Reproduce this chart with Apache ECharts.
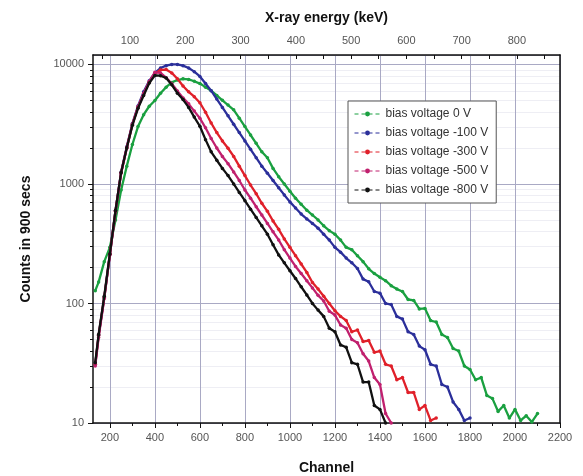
<!DOCTYPE html>
<html><head><meta charset="utf-8">
<script src="https://cdn.jsdelivr.net/npm/echarts@6/dist/echarts.min.js"></script>
<style>html,body{margin:0;padding:0;background:#fff}#c{width:583px;height:476px}</style>
</head><body><div id="c"></div>
<script>
// Channel positions (shared by all series)
const channels = [135,150,175,200,225,250,275,300,325,350,375,400,425,450,475,500,525,550,575,600,
  625,650,675,700,725,750,775,800,825,850,875,900,925,950,975,1000,1025,1050,1075,1100,
  1125,1150,1175,1200,1225,1250,1275,1300,1325,1350,1375,1400,1425,1450,1475,1500,1525,1550,1575,1600,
  1625,1650,1675,1700,1725,1750,1775,1800,1825,1850,1875,1900,1925,1950,1975,2000,2025,2050,2075,2100];

// Counts in 900 secs
const bias0 = [128,151,224,295,500,890,1410,2140,3020,3800,4470,5000,5750,6460,7080,7410,7590,7500,7240,6920,
  6460,6030,5500,5010,4570,4170,3550,3020,2570,2190,1860,1660,1350,1150,1000,870,760,676,603,550,
  500,447,407,380,339,295,282,251,224,195,178,166,155,141,132,126,108,106,90,91,
  72,70,55,52,42,40,30,28,23,24,17,16,12.5,14,11,13,10.5,11.5,10.2,12];
const bias100 = [31,54,112,258,600,1260,2050,3200,4500,5900,7300,8500,9330,9770,10000,10000,9770,9330,8710,7940,
  6920,6030,5130,4370,3720,3160,2690,2290,1950,1660,1410,1230,1070,930,810,708,630,560,510,468,
  427,380,339,295,269,240,219,196,160,152,126,122,100,98,78,74,58,55,44,41,
  31,30,21,20,15,13,10.5,11];
const bias300 = [31,54,112,258,595,1240,2010,3150,4400,5700,7100,8400,9000,9060,8500,7600,6600,5900,5370,4780,
  3980,3240,2690,2290,1990,1700,1410,1175,980,830,690,590,490,417,347,295,251,214,182,150,
  132,115,100,87,78,72,58,60,48,49,39,40,31,30,23,24,18,18,13,14,
  10.5,11];
const bias500 = [30,52,110,255,590,1230,2000,3150,4400,5700,7200,8600,8500,7760,6900,6000,5250,4680,4070,3550,
  2950,2400,2000,1700,1480,1260,1070,890,760,645,550,468,398,340,282,240,204,178,155,135,
  117,105,86,80,66,62,50,47,38,33,24,21,12,10];
const bias800 = [32,55,115,260,600,1250,2000,3100,4300,5500,7000,8100,8050,7700,6760,5750,5080,4370,3630,3040,
  2350,1860,1580,1350,1175,1000,850,725,615,525,447,380,310,255,219,188,162,138,118,100,
  88,78,62,58,45,43,32,31,22,22,14,13,10];

const seriesNames = ['bias voltage 0 V','bias voltage -100 V','bias voltage -300 V','bias voltage -500 V','bias voltage -800 V'];
const seriesValues = [bias0, bias100, bias300, bias500, bias800];
const seriesColors = ['#1aa040','#2b2f9a','#e0202a','#c0206e','#111111'];

// Axis ticks / labels
const channelLabels = [200,400,600,800,1000,1200,1400,1600,1800,2000,2200];
const channelMinor = [300,500,700,900,1100,1300,1500,1700,1900,2100];
const energyLabels = [100,200,300,400,500,600,700,800];
const energyTicks = [50,100,150,200,250,300,350,400,450,500,550,600,650,700,750,800,850];
const countMultipliers = [2,3,4,5,6,7,8,9];
const countDecades = [10,100,1000,10000];

const chMin = 125, chMax = 2200;
const keVMin = 33, keVMax = 878;
const cMin = 10, cMax = 12000;

const minorLog = [];
countDecades.forEach(d => countMultipliers.forEach(m => { const v = d*m; if (v <= cMax) minorLog.push(Math.log10(v)); }));

const font = 'Liberation Sans, Arial, sans-serif';
const labelStyle = {color:'#555', fontSize:11, fontFamily:font};
const nameStyle = {color:'#111', fontSize:14, fontWeight:'bold', fontFamily:font};
const gridColor = '#a9a9c4';

const chart = echarts.init(document.getElementById('c'), null, {renderer:'canvas'});
chart.setOption({
  animation:false,
  backgroundColor:'#fff',
  grid:{left:93, top:55, right:23, bottom:53, containLabel:false, outerBoundsMode:'none'},
  legend:{
    orient:'vertical', left:348, top:101,
    data:seriesNames,
    itemWidth:26, itemHeight:6, itemGap:7,
    padding:[7,8,7,6],
    borderColor:'#555', borderWidth:1, backgroundColor:'#fff',
    textStyle:{color:'#333', fontSize:12, fontFamily:font},
    lineStyle:{type:[4,3], width:1}
  },
  xAxis:[
    {type:'value', position:'bottom', min:chMin, max:chMax,
     name:'Channel', nameLocation:'middle', nameGap:38, nameTextStyle:nameStyle,
     axisLine:{show:true, lineStyle:{color:'#111', width:1.5}},
     axisTick:{show:true, customValues:channelLabels, length:5, lineStyle:{color:'#111'}},
     axisLabel:{customValues:channelLabels, formatter:v=>String(v), margin:9, ...labelStyle},
     splitLine:{show:true, lineStyle:{color:gridColor, width:1}}},
    {type:'value', position:'bottom', min:chMin, max:chMax,
     axisLine:{show:false},
     axisTick:{show:true, customValues:channelMinor, length:3, lineStyle:{color:'#111'}},
     axisLabel:{show:false}, splitLine:{show:false}},
    {type:'value', position:'top', min:keVMin, max:keVMax,
     name:'X-ray energy (keV)', nameLocation:'middle', nameGap:30, nameTextStyle:nameStyle,
     axisLine:{show:true, lineStyle:{color:'#111', width:1.5}},
     axisTick:{show:true, inside:true, customValues:energyTicks, length:4, lineStyle:{color:'#111'}},
     axisLabel:{customValues:energyLabels, formatter:v=>String(v), margin:9, ...labelStyle},
     splitLine:{show:false}}
  ],
  yAxis:[
    {type:'log', logBase:10, position:'left', min:cMin, max:cMax,
     name:'Counts in 900 secs', nameLocation:'middle', nameGap:60, nameTextStyle:nameStyle,
     axisLine:{show:true, lineStyle:{color:'#111', width:1.5}},
     axisTick:{show:true, length:5, lineStyle:{color:'#111'}},
     axisLabel:{formatter:v=>String(Math.round(v)), showMaxLabel:false, margin:9, ...labelStyle},
     splitLine:{show:true, lineStyle:{color:gridColor, width:1}}},
    {type:'value', position:'left', min:Math.log10(cMin), max:Math.log10(cMax),
     axisLine:{show:false},
     axisTick:{show:true, customValues:minorLog, length:3, lineStyle:{color:'#111'}},
     axisLabel:{show:false},
     splitLine:{show:true, lineStyle:{color:'#eeeef4', width:1}}},
    {type:'value', position:'right', min:0, max:1,
     axisLine:{show:true, lineStyle:{color:'#111', width:1.5}},
     axisTick:{show:false}, axisLabel:{show:false}, splitLine:{show:false}}
  ],
  series: seriesNames.map((name, i) => ({
    name, type:'line', xAxisIndex:0, yAxisIndex:0,
    data: seriesValues[i].map((v, k) => [channels[k], v]),
    symbol:'circle', symbolSize:3.5, showSymbol:true,
    color: seriesColors[i],
    lineStyle:{width:2.3, color:seriesColors[i]},
    itemStyle:{color:seriesColors[i]},
    z: 2 + i
  }))
});
</script></body></html>
